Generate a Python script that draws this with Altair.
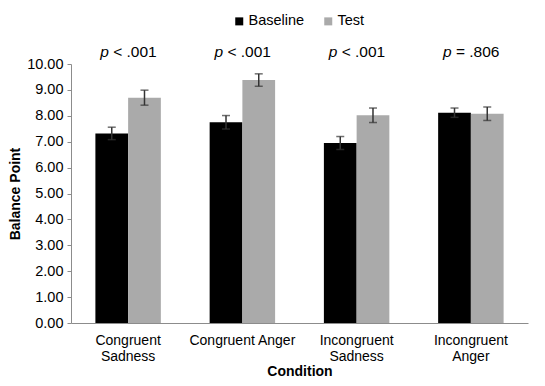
import altair as alt
import pandas as pd

conditions = ["Congruent Sadness", "Congruent Anger", "Incongruent Sadness", "Incongruent Anger"]
series = ["Baseline", "Test"]
baseline = [7.32, 7.75, 6.95, 8.12]
baseline_err = [0.24, 0.26, 0.25, 0.18]
test = [8.70, 9.38, 8.02, 8.08]
test_err = [0.29, 0.24, 0.28, 0.26]
p_rest = ["< .001", "< .001", "< .001", "= .806"]
y_ticks = [0, 1, 2, 3, 4, 5, 6, 7, 8, 9, 10]

FONT = "Arial, Liberation Sans, Helvetica, sans-serif"

rows = []
for i, c in enumerate(conditions):
    for s, vals, errs in (("Baseline", baseline, baseline_err), ("Test", test, test_err)):
        v, e = vals[i], errs[i]
        rows.append({"Condition": c, "Series": s, "Value": v, "lo": v - e, "hi": v + e})
df = pd.DataFrame(rows)
df_p = pd.DataFrame({"Condition": conditions, "rest": p_rest, "p": ["p"] * 4})

x_axis = alt.Axis(
    title="Condition",
    titleFont=FONT,
    titleFontSize=14,
    titleFontWeight="bold",
    titleColor="#000000",
    titleBaseline="alphabetic",
    titleY=52,
    labelFont=FONT,
    labelFontSize=14,
    labelColor="#000000",
    labelAngle=0,
    labelPadding=10,
    labelLineHeight=16.5,
    labelExpr="datum.label == 'Congruent Anger' ? datum.label : split(datum.label, ' ')",
    ticks=False,
    domainColor="#8c8c8c",
    domainWidth=1,
    grid=False,
)
y_axis = alt.Axis(
    title="Balance Point",
    titleFont=FONT,
    titleFontSize=14,
    titleFontWeight="bold",
    titleColor="#000000",
    titlePadding=4,
    labelFont=FONT,
    labelFontSize=14.5,
    labelColor="#000000",
    labelPadding=4,
    labelOverlap=False,
    values=y_ticks,
    format=".2f",
    tickSize=4,
    tickColor="#8c8c8c",
    domainColor="#8c8c8c",
    grid=False,
)

x_scale = alt.Scale(paddingInner=0.427, paddingOuter=0.2135)
y_scale = alt.Scale(domain=[0, 10], nice=False)


def xenc():
    return alt.X("Condition:N", sort=conditions, scale=x_scale, axis=x_axis)


def xoenc():
    return alt.XOffset("Series:N", sort=series, scale=alt.Scale(paddingInner=0, paddingOuter=0))


def yenc(field):
    return alt.Y(field, scale=y_scale, axis=y_axis)


bars = alt.Chart(df).mark_bar().encode(
    x=xenc(),
    xOffset=xoenc(),
    y=yenc("Value:Q"),
    color=alt.Color(
        "Series:N",
        scale=alt.Scale(domain=series, range=["#000000", "#aaaaaa"]),
        legend=alt.Legend(
            orient="none",
            legendX=161,
            legendY=-50,
            direction="horizontal",
            title=None,
            symbolType="square",
            symbolSize=64,
            symbolStrokeWidth=0,
            labelFont=FONT,
            labelFontSize=14.5,
            labelColor="#000000",
            labelOffset=2,
            columnPadding=16,
        ),
    ),
)

err_color = "#333333"
rules = alt.Chart(df).mark_rule(color=err_color, strokeWidth=1.5).encode(
    x=xenc(),
    xOffset=xoenc(),
    y=yenc("lo:Q"),
    y2="hi:Q",
)
cap_lo = alt.Chart(df).mark_tick(color=err_color, thickness=1.5, size=8).encode(
    x=xenc(),
    xOffset=xoenc(),
    y=yenc("lo:Q"),
)
cap_hi = alt.Chart(df).mark_tick(color=err_color, thickness=1.5, size=8).encode(
    x=xenc(),
    xOffset=xoenc(),
    y=yenc("hi:Q"),
)

p_italic = alt.Chart(df_p).mark_text(
    font=FONT, fontSize=15.5, fontStyle="italic", align="left", baseline="alphabetic", dx=-28, color="#000000"
).encode(x=xenc(), y=alt.value(-7), text="p:N")
p_text = alt.Chart(df_p).mark_text(
    font=FONT, fontSize=15.5, align="left", baseline="alphabetic", dx=-15, color="#000000"
).encode(x=xenc(), y=alt.value(-7), text="rest:N")

chart = (
    alt.layer(bars, rules, cap_lo, cap_hi, p_italic, p_text)
    .properties(
        width=457,
        height=259,
        padding={"left": 63, "top": 56, "right": 9, "bottom": 55},
        autosize="none",
    )
    .configure_view(strokeWidth=0)
)

chart.save("out.html", embed_options={"renderer": "svg", "actions": False})
